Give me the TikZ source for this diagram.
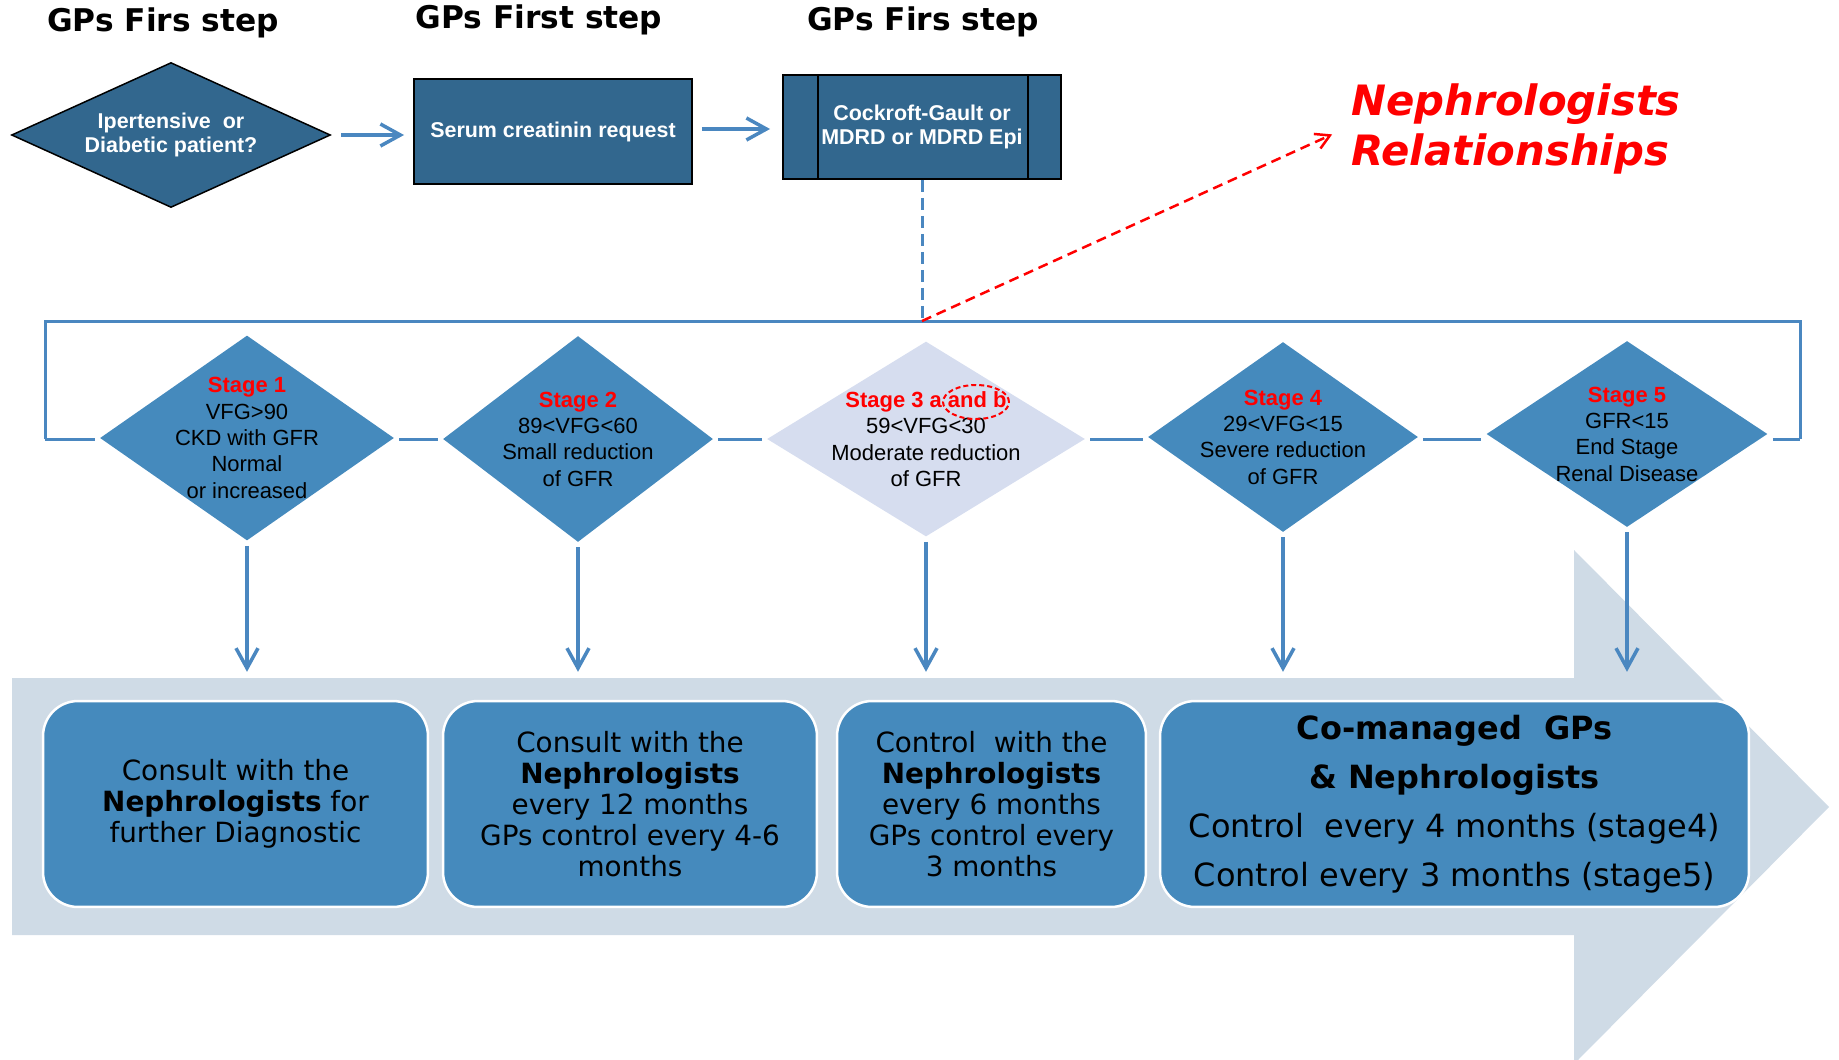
\documentclass[tikz,border=0pt]{standalone}
\usepackage{fontspec}
\setmainfont{Liberation Sans}
\newfontfamily\verdanafont{DejaVu Sans}
\usetikzlibrary{shapes.geometric,arrows.meta,calc}

\definecolor{darkblue}{RGB}{50,103,142}
\definecolor{midblue}{RGB}{69,138,189}
\definecolor{lineblue}{RGB}{74,135,192}
\definecolor{paleblue}{RGB}{214,221,239}
\definecolor{bandgray}{RGB}{207,219,230}

\tikzset{
  heading/.style={font=\verdanafont\bfseries\fontsize{17.8pt}{20pt}\selectfont},
  gpbox/.style={rectangle, draw=black, line width=0.04cm, fill=darkblue, text=white, align=center,
    font=\bfseries\fontsize{12.2pt}{13.8pt}\selectfont},
  stagebox/.style={diamond, fill=midblue, inner sep=-0.5cm, align=center,
    font=\fontsize{12.5pt}{15pt}\selectfont},
  carebox/.style={rectangle, rounded corners=0.7cm, draw=white, line width=0.05cm, fill=midblue,
    align=center, minimum height=4.12cm, font=\verdanafont\fontsize{15.85pt}{17.6pt}\selectfont},
  frame/.style={lineblue, line width=0.06cm},
  flow/.style={lineblue, line width=0.07cm, -{Straight Barb[length=0.4cm,width=0.44cm]}},
}

\begin{document}
\begin{tikzpicture}[x=0.02cm, y=-0.02cm]
  \useasboundingbox (0,0) rectangle (1839,1059);

  % big background arrow
  \fill[bandgray] (12,678) -- (1574,678) -- (1574,550) -- (1829,807) -- (1574,1064) -- (1574,935) -- (12,935) -- cycle;

  % GP steps
  \node[heading] (h1) at (163,23) {GPs Firs step};
  \node[heading] (h2) at (539,20) {GPs First step};
  \node[heading] (h3) at (923,22) {GPs Firs step};

  \node[diamond, draw=black, line width=0.03cm, fill=darkblue, text=white, align=center, inner sep=-0.5cm,
    minimum width=6.38cm, minimum height=2.9cm, font=\bfseries\fontsize{12.2pt}{13.8pt}\selectfont]
    (pat) at (171,135) {Ipertensive~~or\\Diabetic patient?};
  \node[gpbox, minimum width=5.56cm, minimum height=2.1cm] (sc) at (553,131.5) {Serum creatinin request};
  \node[gpbox, minimum width=5.56cm, minimum height=2.08cm] (cg) at (922,127) {Cockroft-Gault or\\MDRD or MDRD Epi};
  \draw[black, line width=0.03cm] ($(cg.north west)+(36,0)$) -- ($(cg.south west)+(36,0)$);
  \draw[black, line width=0.03cm] ($(cg.north east)+(-34,0)$) -- ($(cg.south east)+(-34,0)$);

  \draw[flow, shorten <=0.2cm, shorten >=0.18cm] (pat.east) -- (pat.east -| sc.west);
  \draw[flow, shorten <=0.18cm, shorten >=0.24cm] (sc.east |- 0,129) -- (cg.west |- 0,129);

  \node[anchor=west, text=red, align=left, inner sep=0.14cm,
    font=\verdanafont\bfseries\itshape\fontsize{23.8pt}{28.5pt}\selectfont] (rel) at (1344,129) {Nephrologists\\Relationships};

  % stages
  \node[stagebox, minimum width=5.88cm, minimum height=4.1cm] (s1) at (247,438)
    {{\color{red}\bfseries Stage 1}\\VFG>90\\CKD with GFR\\Normal\\or increased};
  \node[stagebox, minimum width=5.4cm, minimum height=4.12cm] (s2) at (578,439)
    {{\color{red}\bfseries Stage 2}\\89<VFG<60\\Small reduction\\of GFR};
  \node[stagebox, fill=paleblue, minimum width=6.36cm, minimum height=3.9cm] (s3) at (926,439)
    {{\color{red}\bfseries Stage 3 a and b}\\59<VFG<30\\Moderate reduction\\of GFR};
  \node[stagebox, minimum width=5.4cm, minimum height=3.8cm] (s4) at (1283,437)
    {{\color{red}\bfseries Stage 4}\\29<VFG<15\\Severe reduction\\of GFR};
  \node[stagebox, minimum width=5.62cm, minimum height=3.72cm] (s5) at (1627,434)
    {{\color{red}\bfseries Stage 5}\\GFR<15\\End Stage\\Renal Disease};
  \draw[red, line width=0.04cm, dash pattern=on 0.1cm off 0.06cm] ($(s3)+(50,-37)$) ellipse [x radius=0.66cm, y radius=0.34cm];

  % frame round the stages
  \coordinate (fl) at (45,439);
  \coordinate (fr) at (1800,439);
  \coordinate (hub) at (cg.south |- 0,321);
  \draw[frame] (fl) |- (hub) -| (fr);
  \draw[frame, shorten >=0.1cm] (fl) -- (s1.west |- fl);
  \foreach \a/\b in {s1/s2,s2/s3,s3/s4,s4/s5}
    \draw[frame, shorten <=0.1cm, shorten >=0.1cm] (\a.east |- fl) -- (\b.west |- fl);
  \draw[frame, shorten <=0.1cm] (s5.east |- fr) -- (fr);

  \draw[lineblue, line width=0.06cm, dash pattern=on 0.24cm off 0.12cm] (cg.south) -- (hub);
  \draw[red, line width=0.05cm, dash pattern=on 0.2cm off 0.12cm, shorten >=0.26cm,
    -{Straight Barb[length=0.28cm,width=0.32cm]}] (hub) -- (rel.west);

  % what to do
  \node[carebox, minimum width=7.7cm] (b1) at (235.5,804)
    {Consult with the\\\textbf{Nephrologists} for\\further Diagnostic};
  \node[carebox, minimum width=7.48cm] (b2) at (630,804)
    {Consult with the\\\textbf{Nephrologists}\\every 12 months\\GPs control every 4-6\\months};
  \node[carebox, minimum width=6.18cm] (b3) at (991.5,804)
    {Control~~with the\\\textbf{Nephrologists}\\every 6 months\\GPs control every\\3 months};
  \node[carebox, minimum width=11.78cm, font=\verdanafont\fontsize{18.2pt}{27.9pt}\selectfont] (b4) at (1454.5,804)
    {\textbf{Co-managed~~GPs}\\\textbf{\& Nephrologists}\\Control~~every 4 months (stage4)\\Control every 3 months (stage5)};

  \foreach \s/\b in {s1/b1,s2/b2,s3/b3,s4/b4,s5/b4}
    \draw[flow, shorten <=0.1cm, shorten >=0.56cm] (\s.south) -- (\s.south |- \b.north);
\end{tikzpicture}
\end{document}
